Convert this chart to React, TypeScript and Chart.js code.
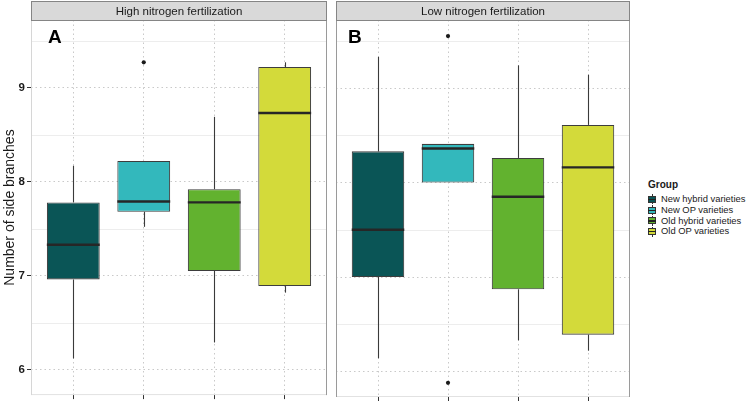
import React, { useEffect, useRef } from "react";
import { Chart, registerables } from "chart.js";

Chart.register(...registerables);

const FONT = '"Liberation Sans", Arial, Helvetica, sans-serif';

const categories = [
  "New hybrid varieties",
  "New OP varieties",
  "Old hybrid varieties",
  "Old OP varieties",
];
const colors = ["#0a5556", "#33b8bc", "#62b22f", "#d3da3a"];
const panelTitles = ["High nitrogen fertilization", "Low nitrogen fertilization"];
const panelLetters = ["A", "B"];
const yTicks = [6, 7, 8, 9];
const yMin = 5.73;
const yMax = 9.72;
const yTitle = "Number of side branches";
const legendTitle = "Group";

// High nitrogen fertilization
const highMin = [6.12, 7.52, 6.29, 6.82];
const highQ1 = [6.96, 7.68, 7.05, 6.89];
const highMed = [7.33, 7.79, 7.78, 8.73];
const highQ3 = [7.78, 8.22, 7.92, 9.22];
const highMax = [8.17, 8.22, 8.69, 9.27];
const highOutliers = [[], [9.27], [], []];

// Low nitrogen fertilization
const lowMin = [6.14, 8.0, 6.33, 6.22];
const lowQ1 = [7.0, 8.0, 6.87, 6.39];
const lowMed = [7.5, 8.36, 7.85, 8.16];
const lowQ3 = [8.33, 8.41, 8.26, 8.61];
const lowMax = [9.33, 8.41, 9.24, 9.14];
const lowOutliers = [[], [9.55, 5.88], [], []];

type Stats = {
  min: number[];
  q1: number[];
  med: number[];
  q3: number[];
  max: number[];
  out: number[][];
};

const panels: Stats[] = [
  { min: highMin, q1: highQ1, med: highMed, q3: highQ3, max: highMax, out: highOutliers },
  { min: lowMin, q1: lowQ1, med: lowMed, q3: lowQ3, max: lowMax, out: lowOutliers },
];

function makePlugin(stats: Stats, title: string, letter: string, letterDx: number, leftBorder: string) {
  return {
    id: "boxExtras",
    beforeDatasetsDraw(chart: any) {
      const { ctx, chartArea: ca, scales } = chart;
      const x = scales.x;
      const y = scales.y;
      ctx.save();
      // minor grid lines
      const tv = y.ticks.map((t: any) => t.value);
      const minors: number[] = [];
      for (let i = 0; i < tv.length - 1; i++) minors.push((tv[i] + tv[i + 1]) / 2);
      if (tv[0] - 0.5 >= y.min) minors.push(tv[0] - 0.5);
      if (tv[tv.length - 1] + 0.5 <= y.max) minors.push(tv[tv.length - 1] + 0.5);
      ctx.strokeStyle = "#ededed";
      ctx.lineWidth = 1;
      minors.forEach((v) => {
        const py = Math.round(y.getPixelForValue(v)) + 0.5;
        ctx.beginPath();
        ctx.moveTo(ca.left, py);
        ctx.lineTo(ca.right, py);
        ctx.stroke();
      });
      // whiskers
      ctx.strokeStyle = "#3a3a3a";
      ctx.lineWidth = 1.1;
      stats.q1.forEach((_, i) => {
        const px = Math.round(x.getPixelForValue(i + 1)) + 0.5;
        if (stats.max[i] > stats.q3[i]) {
          ctx.beginPath();
          ctx.moveTo(px, y.getPixelForValue(stats.q3[i]));
          ctx.lineTo(px, y.getPixelForValue(stats.max[i]));
          ctx.stroke();
        }
        if (stats.min[i] < stats.q1[i]) {
          ctx.beginPath();
          ctx.moveTo(px, y.getPixelForValue(stats.q1[i]));
          ctx.lineTo(px, y.getPixelForValue(stats.min[i]));
          ctx.stroke();
        }
      });
      ctx.restore();
    },
    afterDatasetsDraw(chart: any) {
      const { ctx, scales } = chart;
      const y = scales.y;
      const meta = chart.getDatasetMeta(0);
      ctx.save();
      ctx.strokeStyle = "#262626";
      ctx.lineWidth = 2.4;
      stats.med.forEach((m, i) => {
        const el = meta.data[i];
        const py = y.getPixelForValue(m);
        ctx.beginPath();
        ctx.moveTo(el.x - el.width / 2, py);
        ctx.lineTo(el.x + el.width / 2, py);
        ctx.stroke();
      });
      ctx.restore();
    },
    afterDraw(chart: any) {
      const { ctx, chartArea: ca } = chart;
      ctx.save();
      // panel border
      ctx.lineWidth = 1;
      ctx.strokeStyle = "#e2e2e2";
      ctx.beginPath();
      ctx.moveTo(ca.left, ca.bottom - 0.5);
      ctx.lineTo(ca.right, ca.bottom - 0.5);
      ctx.stroke();
      ctx.strokeStyle = leftBorder;
      ctx.beginPath();
      ctx.moveTo(ca.left + 0.5, ca.top);
      ctx.lineTo(ca.left + 0.5, ca.bottom);
      ctx.stroke();
      ctx.strokeStyle = "#9a9a9a";
      ctx.beginPath();
      ctx.moveTo(ca.right - 0.5, ca.top);
      ctx.lineTo(ca.right - 0.5, ca.bottom);
      ctx.stroke();
      // strip
      ctx.fillStyle = "#d9d9d9";
      ctx.fillRect(ca.left, 1, ca.right - ca.left, ca.top - 1);
      ctx.strokeStyle = "#858585";
      ctx.strokeRect(ca.left + 0.5, 1.5, ca.right - ca.left - 1, ca.top - 1);
      ctx.fillStyle = "#1a1a1a";
      ctx.font = `11.5px ${FONT}`;
      ctx.textAlign = "center";
      ctx.textBaseline = "middle";
      ctx.fillText(title, (ca.left + ca.right) / 2, (ca.top + 2) / 2 + 0.5);
      // panel letter
      ctx.font = `bold 19px ${FONT}`;
      ctx.textAlign = "left";
      ctx.textBaseline = "alphabetic";
      ctx.fillStyle = "#000000";
      ctx.fillText(letter, ca.left + letterDx, ca.top + 23);
      ctx.restore();
    },
  };
}

function Panel({ index, width, showY }: { index: number; width: number; showY: boolean }) {
  const ref = useRef<HTMLCanvasElement | null>(null);
  useEffect(() => {
    if (!ref.current) return;
    const stats = panels[index];
    const xVals = categories.map((_, i) => i + 1);
    const chart = new Chart(ref.current, {
      type: "bar",
      data: {
        datasets: [
          {
            type: "bar",
            data: categories.map((_, i) => ({ x: xVals[i], y: [stats.q1[i], stats.q3[i]] })) as any,
            backgroundColor: colors,
            borderColor: "#3d3d3d",
            borderWidth: 1.1,
            borderSkipped: false,
            barPercentage: 0.75,
            categoryPercentage: 1,
          } as any,
          {
            type: "scatter",
            data: stats.out.flatMap((arr, i) => arr.map((v) => ({ x: xVals[i], y: v }))),
            backgroundColor: "#1a1a1a",
            borderWidth: 0,
            pointRadius: 2.1,
          } as any,
        ],
      },
      options: {
        animation: false,
        responsive: false,
        maintainAspectRatio: false,
        events: [],
        layout: { padding: { left: showY ? 0 : 2, right: 2, top: 20, bottom: 0 } },
        plugins: {
          legend: { display: false },
          tooltip: { enabled: false },
          title: { display: false },
        },
        scales: {
          x: {
            type: "linear",
            offset: false,
            min: 0.4,
            max: categories.length + 0.6,
            afterBuildTicks: (s: any) => {
              s.ticks = xVals.map((v) => ({ value: v }));
            },
            grid: {
              offset: false,
              color: "#c9c9c9",
              lineWidth: 1,
              tickLength: 4,
              tickColor: "#333333",
              tickBorderDash: [],
              drawTicks: true,
            },
            border: { display: false, dash: [1.5, 3] },
            ticks: { display: false },
            afterFit: (s: any) => {
              s.height = 7;
            },
          },
          y: {
            type: "linear",
            min: yMin,
            max: yMax,
            afterBuildTicks: (s: any) => {
              s.ticks = yTicks.map((v) => ({ value: v }));
            },
            grid: {
              color: "#c9c9c9",
              lineWidth: 1,
              tickLength: 4,
              tickColor: "#333333",
              tickBorderDash: [],
              drawTicks: showY,
            },
            border: { display: false, dash: [1.5, 3] },
            ticks: {
              display: showY,
              padding: 2,
              color: "#1a1a1a",
              font: { family: FONT, size: 11.5, weight: "bold" },
            },
            title: {
              display: showY,
              text: yTitle,
              color: "#1a1a1a",
              font: { family: FONT, size: 14 },
              padding: { top: 2, bottom: 0 },
            },
            afterFit: (s: any) => {
              s.width = showY ? 31 : 0;
            },
          },
        },
      } as any,
      plugins: [
        makePlugin(
          stats,
          panelTitles[index],
          panelLetters[index],
          index === 0 ? 17 : 12,
          index === 0 ? "#d6d6d6" : "#9a9a9a"
        ) as any,
      ],
    });
    return () => chart.destroy();
  }, [index, showY]);
  return <canvas ref={ref} width={width} height={404} style={{ display: "block", width, height: 404 }} />;
}

function LegendKey({ color }: { color: string }) {
  return (
    <div style={{ position: "relative", width: 8, height: 10, marginRight: 5, flex: "0 0 auto" }}>
      <div style={{ position: "absolute", left: 3.5, top: 0, width: 1, height: 10, background: "#333" }} />
      <div
        style={{
          position: "absolute",
          left: 0,
          top: 1.5,
          width: 8,
          height: 7,
          boxSizing: "border-box",
          background: color,
          border: "1px solid #333",
        }}
      />
      <div style={{ position: "absolute", left: 0, top: 4.5, width: 8, height: 1.2, background: "#222" }} />
    </div>
  );
}

export default function App() {
  return (
    <div
      style={{
        position: "absolute",
        left: 0,
        top: 0,
        width: 752,
        height: 404,
        overflow: "hidden",
        background: "#ffffff",
        fontFamily: FONT,
      }}
    >
      <div style={{ position: "absolute", left: 0, top: 0 }}>
        <Panel index={0} width={331} showY={true} />
      </div>
      <div style={{ position: "absolute", left: 332, top: 0 }}>
        <Panel index={1} width={302} showY={false} />
      </div>
      <div style={{ position: "absolute", left: 648, top: 179, color: "#1a1a1a" }}>
        <div style={{ fontWeight: "bold", fontSize: 10, lineHeight: "12px", marginBottom: 3 }}>{legendTitle}</div>
        {categories.map((c, i) => (
          <div key={c} style={{ display: "flex", alignItems: "center", height: 10.8, fontSize: 9.4, lineHeight: "10.8px" }}>
            <LegendKey color={colors[i]} />
            <span>{c}</span>
          </div>
        ))}
      </div>
    </div>
  );
}
